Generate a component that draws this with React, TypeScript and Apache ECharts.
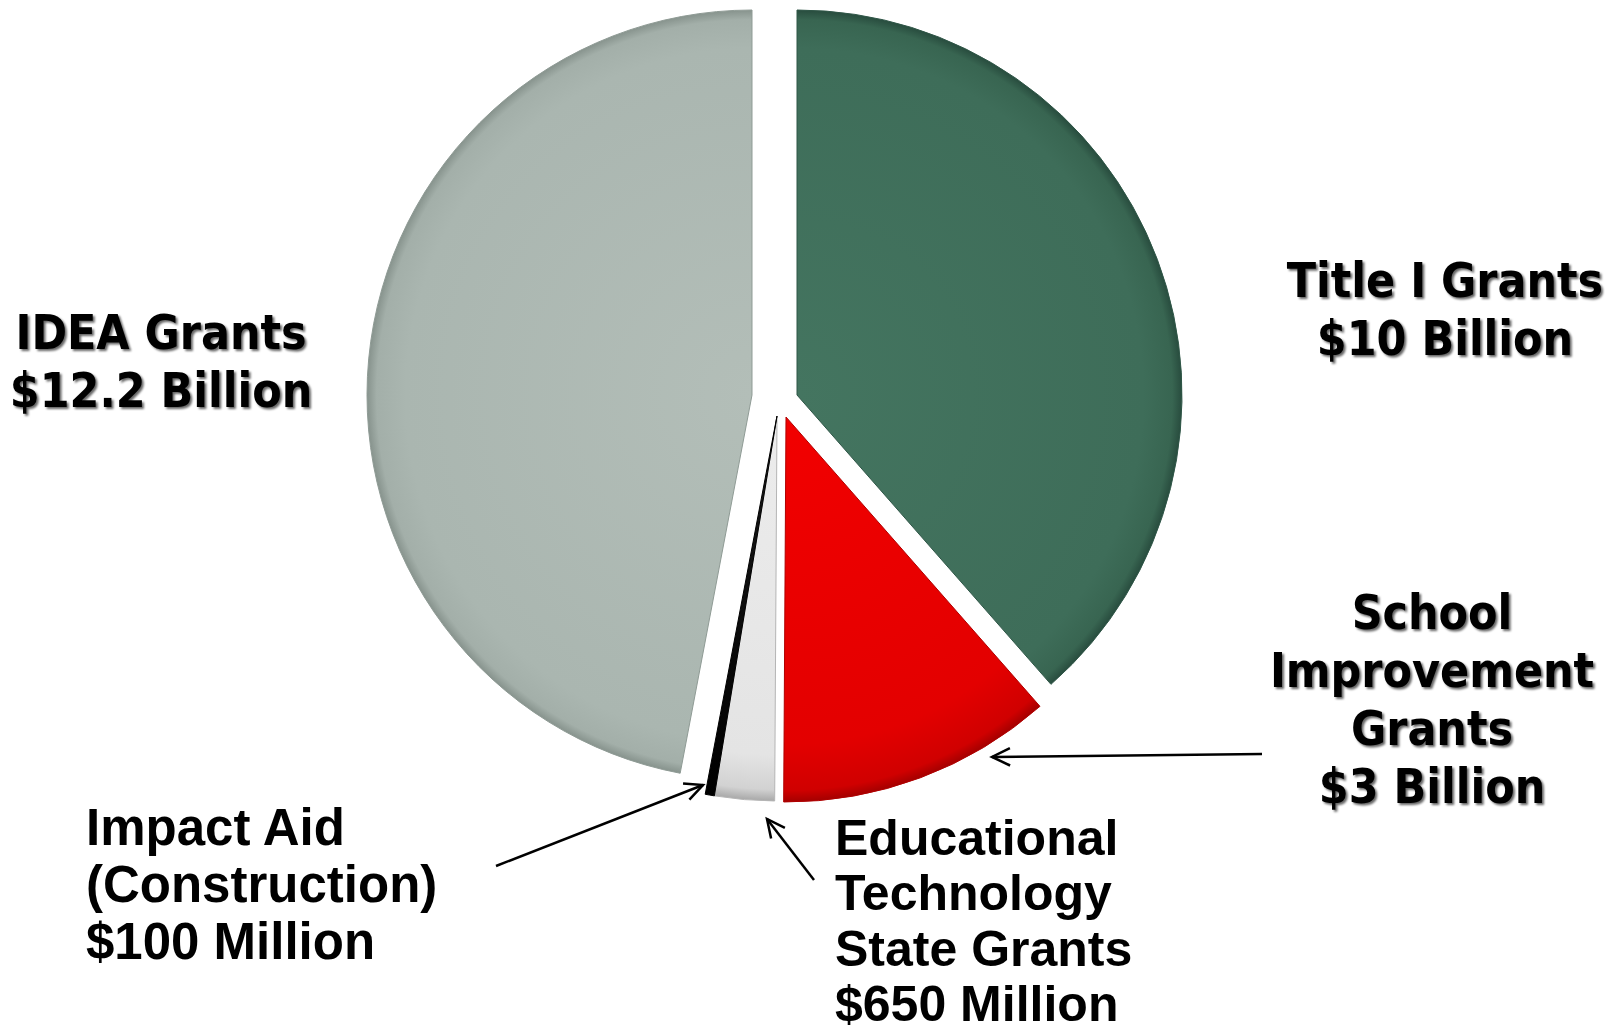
import React, { useEffect, useRef } from "react";
import * as echarts from "echarts";

// ---- Data ----
const categories = [
  "Title I Grants",
  "School Improvement Grants",
  "Educational Technology State Grants",
  "Impact Aid (Construction)",
  "IDEA Grants",
];
const values = [10, 3, 0.65, 0.1, 12.2]; // billions of dollars
const amountLabels = ["$10 Billion", "$3 Billion", "$650 Million", "$100 Million", "$12.2 Billion"];
const nameLines = [
  ["Title I Grants"],
  ["School", "Improvement", "Grants"],
  ["Educational", "Technology", "State Grants"],
  ["Impact Aid", "(Construction)"],
  ["IDEA Grants"],
];

// ---- Layout / style ----
const R = 385;
const sliceCenters: [number, number][] = [
  [797, 395],
  [786, 417],
  [777, 416],
  [777, 416],
  [752, 395],
];
const sliceStops: [number, string][][] = [
  [[0, "#447560"], [0.9, "#3e6d59"], [0.975, "#386551"], [1, "#284c3e"]],
  [[0, "#f20000"], [0.85, "#e30000"], [0.97, "#d00000"], [1, "#a40000"]],
  [[0, "#ececec"], [0.88, "#e4e4e4"], [0.97, "#d2d2d2"], [1, "#a8a8a8"]],
  [[0, "#1a1a1a"], [1, "#000000"]],
  [[0, "#b3beb8"], [0.9, "#aab6b0"], [0.975, "#a3afa9"], [1, "#87938d"]],
];
const sliceBorders = ["#2f5647", "#b00000", "#b5b5b5", "#000000", "#8f9b95"];

type LabelSpec = { x: number; y: number; align: string; font: string; lh: number; scaleX: number; shadow: boolean };
const labelSpecs: LabelSpec[] = [
  { x: 1445, y: 252, align: "center", font: 'bold 48px "DejaVu Sans"', lh: 58, scaleX: 0.895, shadow: true },
  { x: 1432, y: 584, align: "center", font: 'bold 48px "DejaVu Sans"', lh: 58, scaleX: 0.895, shadow: true },
  { x: 835, y: 810, align: "left", font: 'bold 50px "Liberation Sans"', lh: 55.5, scaleX: 1, shadow: false },
  { x: 86, y: 799, align: "left", font: 'bold 51px "Liberation Sans"', lh: 57, scaleX: 1, shadow: false },
  { x: 161, y: 304, align: "center", font: 'bold 48px "DejaVu Sans"', lh: 58, scaleX: 0.895, shadow: true },
];
const arrows: { tail: [number, number]; tip: [number, number] }[] = [
  { tail: [1262, 754], tip: [992, 757] },
  { tail: [814, 880], tip: [767, 819] },
  { tail: [496, 866], tip: [703, 785] },
];

function radial(cx: number, cy: number, stops: [number, string][]) {
  return {
    type: "radial",
    x: cx,
    y: cy,
    r: R,
    global: true,
    colorStops: stops.map(([offset, color]) => ({ offset, color })),
  };
}

function arrowElements(tail: [number, number], tip: [number, number]) {
  const dx = tip[0] - tail[0];
  const dy = tip[1] - tail[1];
  const len = Math.hypot(dx, dy);
  const ux = dx / len;
  const uy = dy / len;
  const h = 20;
  const a = 0.45;
  const head = (s: number): [number, number] => {
    const ca = Math.cos(s * a);
    const sa = Math.sin(s * a);
    const rx = ux * ca - uy * sa;
    const ry = uy * ca + ux * sa;
    return [tip[0] - h * rx, tip[1] - h * ry];
  };
  return [
    {
      type: "line",
      shape: { x1: tail[0], y1: tail[1], x2: tip[0], y2: tip[1] },
      style: { stroke: "#000", lineWidth: 2.5 },
      silent: true,
    },
    {
      type: "polyline",
      shape: { points: [head(1), tip, head(-1)] },
      style: { stroke: "#000", lineWidth: 2.5, fill: null },
      silent: true,
    },
  ];
}

export default function App() {
  const ref = useRef<HTMLDivElement>(null);

  useEffect(() => {
    if (!ref.current) return;
    const chart = echarts.init(ref.current, null, { renderer: "svg" });

    const series = values.map((_, k) => ({
      type: "pie",
      name: categories[k],
      center: sliceCenters[k],
      radius: R,
      startAngle: 90,
      clockwise: true,
      avoidLabelOverlap: false,
      silent: true,
      label: { show: false },
      labelLine: { show: false },
      emphasis: { disabled: true },
      z: 2,
      data: values.map((v, i) => ({
        name: categories[i],
        value: v,
        itemStyle:
          i === k
            ? {
                color: radial(sliceCenters[k][0], sliceCenters[k][1], sliceStops[k]),
                borderColor: sliceBorders[k],
                borderWidth: 1,
              }
            : { color: "rgba(0,0,0,0)", borderWidth: 0 },
      })),
    }));

    const labelElements = labelSpecs.map((s, i) => ({
      type: "text",
      x: s.x,
      y: s.y,
      scaleX: s.scaleX,
      z: 10,
      silent: true,
      style: {
        text: [...nameLines[i], amountLabels[i]].join("\n"),
        font: s.font,
        fill: "#000",
        textAlign: s.align,
        textVerticalAlign: "top",
        lineHeight: s.lh,
        ...(s.shadow
          ? {
              textShadowColor: "rgba(0,0,0,0.6)",
              textShadowBlur: 2,
              textShadowOffsetX: 2,
              textShadowOffsetY: 2,
            }
          : {}),
      },
    }));

    const arrowEls = arrows.flatMap((a) => arrowElements(a.tail, a.tip));

    chart.setOption({
      animation: false,
      backgroundColor: "#ffffff",
      series,
      graphic: { elements: [...labelElements, ...arrowEls] },
    });

    return () => chart.dispose();
  }, []);

  return (
    <div
      ref={ref}
      style={{ position: "fixed", left: 0, top: 0, width: 1620, height: 1033 }}
    />
  );
}
